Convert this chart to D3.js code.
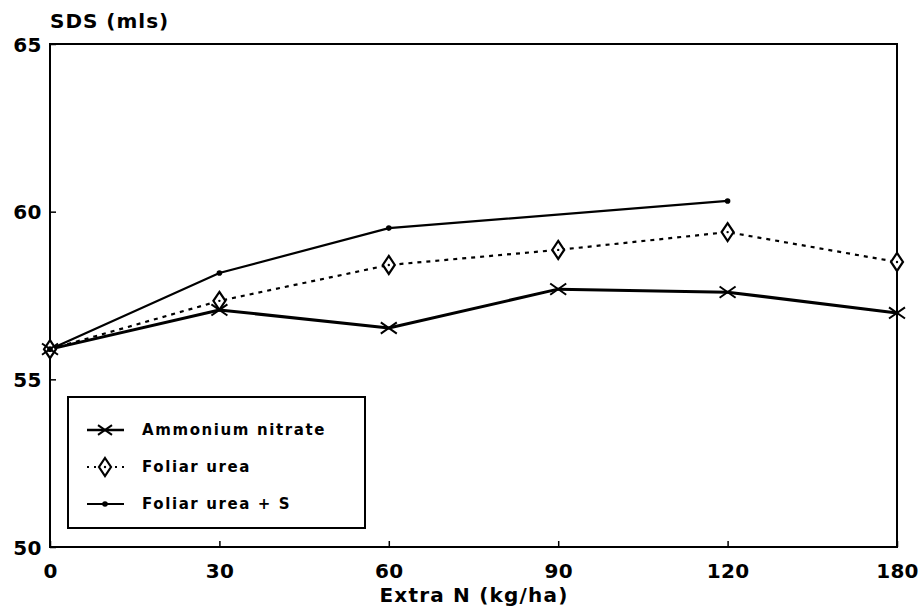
<!DOCTYPE html>
<html><head><meta charset="utf-8">
<script src="https://cdn.jsdelivr.net/npm/d3@7"></script>
<style>
body{margin:0;background:#fff;}
text{font-family:"DejaVu Sans",sans-serif;font-weight:bold;fill:#000;}
</style></head>
<body><svg id="c" width="919" height="613"></svg>
<script>
const categories = ["0","30","60","90","120","180"];
const ammoniumNitrate = [55.9, 57.07, 56.53, 57.69, 57.6, 56.98];
const foliarUrea = [55.9, 57.34, 58.41, 58.86, 59.39, 58.5];
const foliarUreaS = [55.9, 58.17, 59.51, null, 60.32, null];
const yTicks = [50, 55, 60, 65];
const seriesNames = ["Ammonium nitrate", "Foliar urea", "Foliar urea + S"];

const svg = d3.select("#c");
const L = 50, R = 897, T = 44, B = 547;
const x = d3.scalePoint().domain(categories).range([L, R]);
const y = d3.scaleLinear().domain([50, 65]).range([B, T]);

// frame
svg.append("rect").attr("x", L).attr("y", T).attr("width", R - L).attr("height", B - T)
  .attr("fill", "none").attr("stroke", "#000").attr("stroke-width", 2);

// axes (inward ticks)
const yAxis = d3.axisLeft(y).tickValues(yTicks).tickSize(-6).tickFormat(d3.format("d"));
const gy = svg.append("g").attr("transform", `translate(${L},0)`).call(yAxis);
gy.select(".domain").remove();
gy.selectAll("line").attr("stroke-width", 1.5);
gy.selectAll("text").attr("font-size", 20).attr("letter-spacing", 0.5).attr("dy", "0.36em").attr("x", -8);

const xAxis = d3.axisBottom(x).tickSize(-6);
const gx = svg.append("g").attr("transform", `translate(0,${B})`).call(xAxis);
gx.select(".domain").remove();
gx.selectAll("line").attr("stroke-width", 1.5);
gx.selectAll("text").attr("font-size", 20).attr("letter-spacing", 0.3).attr("dy", null).attr("y", 31);

// titles
svg.append("text").attr("x", 50).attr("y", 28).attr("font-size", 20).attr("letter-spacing", 1).text("SDS (mls)");
svg.append("text").attr("x", 474).attr("y", 602).attr("text-anchor", "middle").attr("font-size", 20)
  .attr("letter-spacing", 1.2).text("Extra N (kg/ha)");

const line = d3.line().defined(d => d.v != null).x(d => x(d.c)).y(d => y(d.v));
function pts(vals) { return categories.map((c, i) => ({c, v: vals[i]})); }
function ptsConnected(vals) { return pts(vals).filter(d => d.v != null); }

// Ammonium nitrate
svg.append("path").datum(pts(ammoniumNitrate)).attr("d", line).attr("fill", "none")
  .attr("stroke", "#000").attr("stroke-width", 3).attr("stroke-linejoin", "round");
// Foliar urea
svg.append("path").datum(pts(foliarUrea)).attr("d", line).attr("fill", "none")
  .attr("stroke", "#000").attr("stroke-width", 2.2).attr("stroke-dasharray", "4,5");
// Foliar urea + S (skip missing points, connect through)
svg.append("path").datum(ptsConnected(foliarUreaS)).attr("d", line).attr("fill", "none")
  .attr("stroke", "#000").attr("stroke-width", 2.2);

function cross(g, cx, cy, s) {
  g.append("path").attr("d", `M${cx - s},${cy - s * 0.7}L${cx + s},${cy + s * 0.7}M${cx - s},${cy + s * 0.7}L${cx + s},${cy - s * 0.7}`)
    .attr("stroke", "#000").attr("stroke-width", 2).attr("fill", "none");
}
function diamond(g, cx, cy) {
  g.append("path").attr("d", `M${cx},${cy - 9}L${cx + 6},${cy}L${cx},${cy + 9}L${cx - 6},${cy}Z`)
    .attr("stroke", "#000").attr("stroke-width", 2.2).attr("fill", "#fff");
  g.append("circle").attr("cx", cx).attr("cy", cy).attr("r", 1.2).attr("fill", "#000");
}
function dot(g, cx, cy) {
  g.append("circle").attr("cx", cx).attr("cy", cy).attr("r", 2.8).attr("fill", "#000");
}
const mk = svg.append("g");
pts(foliarUrea).forEach(d => diamond(mk, x(d.c), y(d.v)));
pts(ammoniumNitrate).forEach(d => cross(mk, x(d.c), y(d.v), 8));
ptsConnected(foliarUreaS).forEach(d => dot(mk, x(d.c), y(d.v)));

// legend
const lg = svg.append("g");
lg.append("rect").attr("x", 68).attr("y", 397).attr("width", 297).attr("height", 131)
  .attr("fill", "#fff").attr("stroke", "#000").attr("stroke-width", 2);
const ly = [430, 467, 504];
const lx0 = 87, lx1 = 124, lxm = 105;
lg.append("line").attr("x1", lx0).attr("x2", lx1).attr("y1", ly[0]).attr("y2", ly[0]).attr("stroke", "#000").attr("stroke-width", 2.5);
cross(lg, lxm, ly[0], 7);
lg.append("line").attr("x1", lx0).attr("x2", lx1).attr("y1", ly[1]).attr("y2", ly[1]).attr("stroke", "#000").attr("stroke-width", 2).attr("stroke-dasharray", "2,5");
diamond(lg, lxm, ly[1]);
lg.append("line").attr("x1", lx0).attr("x2", lx1).attr("y1", ly[2]).attr("y2", ly[2]).attr("stroke", "#000").attr("stroke-width", 2.2);
dot(lg, lxm, ly[2]);
seriesNames.forEach((n, i) => {
  lg.append("text").attr("x", 142).attr("y", ly[i]).attr("dy", "0.36em").attr("font-size", 15)
    .attr("letter-spacing", 1.6).text(n);
});
</script></body></html>
